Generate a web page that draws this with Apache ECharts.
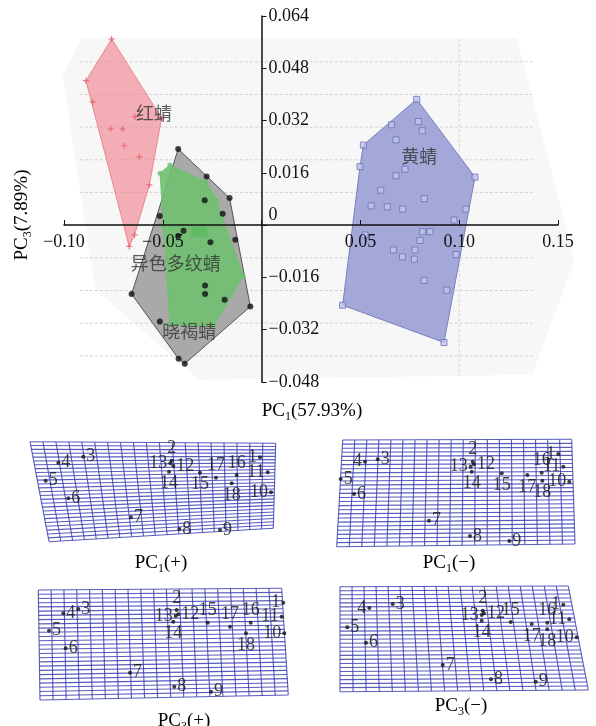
<!DOCTYPE html>
<html>
<head>
<meta charset="utf-8">
<script src="https://cdn.jsdelivr.net/npm/echarts@6/dist/echarts.min.js"></script>
<style>
html, body { margin: 0; padding: 0; background: #fff; }
#chart { width: 596px; height: 726px; }
</style>
</head>
<body>
<div id="chart"></div>
<script>
// PCA scores (PC1, PC3)
var red_points = [
    [-0.0759, 0.0570], [-0.0889, 0.0442], [-0.0855, 0.0377], [-0.0641, 0.0332],
    [-0.0764, 0.0295], [-0.0703, 0.0294], [-0.0695, 0.0243], [-0.0619, 0.0209],
    [-0.0568, 0.0123], [-0.0506, 0.0328], [-0.0643, -0.0030], [-0.0670, -0.0065]
];
var gray_points = [
    [-0.0422, 0.0233], [-0.0278, 0.0149], [-0.0162, 0.0083], [-0.0288, 0.0076],
    [-0.0197, 0.0035], [-0.0515, 0.0028], [-0.0395, -0.0017], [-0.0422, -0.0033],
    [-0.0259, -0.0052], [-0.0133, -0.0045], [-0.0286, -0.0185], [-0.0286, -0.0211],
    [-0.0187, -0.0228], [-0.0057, -0.0249], [-0.0658, -0.0211], [-0.0515, -0.0295],
    [-0.0420, -0.0409], [-0.0389, -0.0424]
];
var green_points = [
    [-0.0514, 0.0159], [-0.0464, 0.0184], [-0.0281, 0.0133], [-0.0227, 0.0077],
    [-0.0093, -0.0157], [-0.0244, -0.0310], [-0.0464, -0.0305], [-0.0497, -0.0004]
];
var green_block = [[-0.0315, -0.0020]];
var blue_points = [
    [0.0785, 0.0385], [0.0658, 0.0307], [0.0793, 0.0317], [0.0813, 0.0289],
    [0.0680, 0.0261], [0.0515, 0.0245], [0.0498, 0.0179], [0.0726, 0.0171],
    [0.0680, 0.0151], [0.1080, 0.0147], [0.0603, 0.0107], [0.0823, 0.0081],
    [0.0554, 0.0059], [0.0636, 0.0056], [0.0714, 0.0049], [0.1034, 0.0049],
    [0.0974, 0.0016], [0.0815, -0.0020], [0.0852, -0.0020], [0.0802, -0.0047],
    [0.0667, -0.0076], [0.0776, -0.0076], [0.0713, -0.0097], [0.0773, -0.0104],
    [0.0984, -0.0090], [0.0823, -0.0169], [0.0937, -0.0199], [0.0410, -0.0245],
    [0.0923, -0.0359], [0.0523, -0.0030]
];
var group_labels = [
    { name: '红蜻', value: [-0.0545, 0.0343] },
    { name: '黄蜻', value: [0.0798, 0.0210] },
    { name: '异色多纹蜻', value: [-0.0434, -0.0116] },
    { name: '晓褐蜻', value: [-0.0366, -0.0325] }
];
var bg_outline = [
    [-0.0909, 0.0572], [0.1292, 0.0572], [0.1583, -0.0106], [0.1370, -0.0458],
    [-0.0317, -0.0473], [-0.0841, -0.0198], [-0.0938, 0.0179], [-0.1006, 0.0455]
];
var grid_y = [0.05, 0.04, 0.03, 0.02, 0.01, -0.01, -0.02, -0.03, -0.04];
var grid_x = [0.10];

// landmark configurations for the deformation grids (local units)
var p1_marks = [
    [235, 27.3], [146.7, 30.7], [58.3, 26.7], [33.3, 32.7], [20.7, 50.7], [43.3, 68.3],
    [106, 87.3], [154.3, 99], [195, 100], [246, 62.3], [242.7, 42.3], [148.3, 36],
    [145.3, 33.3], [144, 41.7], [175, 42.7], [211.7, 45], [191, 47.7], [206.7, 53.3]
];
var p2_marks = [
    [228.3, 24], [142.7, 31.7], [47.7, 29.3], [35, 31.7], [10.7, 49], [24, 64],
    [99, 90.7], [140, 106], [179.3, 111], [239.3, 51.7], [233.3, 36.7], [144, 34.3],
    [140.7, 36.7], [141.7, 41.7], [171.7, 43.3], [211.7, 42.7], [197.3, 45], [212.3, 50.7]
];
var p3_marks = [
    [258.3, 22.7], [151.7, 30], [53.3, 29], [38.3, 33.3], [24, 50.7], [40.7, 68.3],
    [105, 92.7], [149.3, 106.7], [186, 111.7], [259.3, 53.3], [256.7, 36.7], [153.3, 34.3],
    [150.7, 36], [148.3, 41.7], [182.7, 42.7], [225.7, 42.7], [205, 46.7], [221, 53.3]
];
var p4_marks = [
    [233.3, 24.7], [152.7, 30.7], [62.7, 24], [39.3, 28], [17.3, 47.3], [36, 62.7],
    [112.7, 85], [161, 99.3], [205.7, 101.7], [246.7, 57.3], [239.3, 39.3], [154, 33.3],
    [151.7, 35], [151.7, 40.7], [180.7, 42], [217.3, 42.7], [201.7, 44], [217.3, 49.3]
];
var p1_corners = [[5, 11.7], [250.7, 13.3], [248.3, 98.3], [24, 111.7]];
var p2_corners = [[12.7, 10], [241.7, 9.3], [245, 114], [6.7, 116.7]];
var p3_corners = [[13.3, 10], [256.7, 8.3], [263.3, 115], [15, 120]];
var p4_corners = [[10, 6.7], [238.3, 6], [258.3, 110], [10, 111.7]];

var p1_pos = ['left','top','right','right','right','right','right','right','right','left','left','right','left','bottom','bottom','top','top','bottom'];
var p2_pos = ['left','top','right','left','right','right','right','right','right','left','left','right','left','bottom','bottom','top','bottom','bottom'];
var p3_pos = ['left','top','right','right','right','right','right','right','right','left','left','right','left','bottom','top','top','top','bottom'];
var p4_pos = ['left','top','right','left','right','right','right','right','right','left','left','right','left','bottom','top','top','bottom','bottom'];

var SERIF = 'Liberation Serif';
var CJK = 'Noto Sans CJK SC';

function convexHull(pts) {
    var p = pts.slice().sort(function (a, b) { return a[0] - b[0] || a[1] - b[1]; });
    function cross(o, a, b) { return (a[0] - o[0]) * (b[1] - o[1]) - (a[1] - o[1]) * (b[0] - o[0]); }
    var lower = [], upper = [];
    p.forEach(function (q) {
        while (lower.length >= 2 && cross(lower[lower.length - 2], lower[lower.length - 1], q) <= 0) lower.pop();
        lower.push(q);
    });
    p.slice().reverse().forEach(function (q) {
        while (upper.length >= 2 && cross(upper[upper.length - 2], upper[upper.length - 1], q) <= 0) upper.pop();
        upper.push(q);
    });
    return lower.slice(0, -1).concat(upper.slice(0, -1));
}

function polygonSeries(points, fill, stroke, z, hull) {
    var poly = hull ? convexHull(points) : points;
    return {
        type: 'custom', xAxisIndex: 0, yAxisIndex: 0, z: z, silent: true,
        data: [[0, 0]],
        renderItem: function (params, api) {
            return {
                type: 'polygon',
                shape: { points: poly.map(function (q) { return api.coord(q); }) },
                style: { fill: fill, stroke: stroke, lineWidth: 1 }
            };
        }
    };
}

function meshSeries(idx, c, rows, cols) {
    return {
        type: 'custom', xAxisIndex: idx, yAxisIndex: idx, z: 1, silent: true,
        data: [[0, 0]],
        renderItem: function (params, api) {
            function at(u, v) {
                var x = (1 - u) * (1 - v) * c[0][0] + u * (1 - v) * c[1][0] + u * v * c[2][0] + (1 - u) * v * c[3][0];
                var y = (1 - u) * (1 - v) * c[0][1] + u * (1 - v) * c[1][1] + u * v * c[2][1] + (1 - u) * v * c[3][1];
                return api.coord([x, y]);
            }
            var kids = [];
            var st = { stroke: 'rgba(58,64,178,0.85)', lineWidth: 1.1 };
            for (var i = 0; i <= rows; i++) {
                var a = at(0, i / rows), b = at(1, i / rows);
                kids.push({ type: 'line', shape: { x1: a[0], y1: a[1], x2: b[0], y2: b[1] }, style: st });
            }
            for (var j = 0; j <= cols; j++) {
                var d = at(j / cols, 0), e = at(j / cols, 1);
                kids.push({ type: 'line', shape: { x1: d[0], y1: d[1], x2: e[0], y2: e[1] }, style: st });
            }
            return { type: 'group', children: kids };
        }
    };
}

function markSeries(idx, marks, pos) {
    return {
        type: 'scatter', xAxisIndex: idx, yAxisIndex: idx, z: 5,
        symbolSize: 4,
        itemStyle: { color: '#111' },
        data: marks.map(function (m, i) {
            return { value: m, name: String(i + 1), label: { position: pos[i] } };
        }),
        label: {
            show: true, formatter: '{b}', distance: 1,
            fontFamily: SERIF, fontSize: 18, color: '#111'
        }
    };
}

var panelBoxes = [
    { left: 25, top: 430, width: 270, height: 130 },
    { left: 330, top: 430, width: 266, height: 130 },
    { left: 25, top: 580, width: 270, height: 146 },
    { left: 330, top: 580, width: 266, height: 146 }
];

var grids = [{ left: 64, top: 16, width: 494, height: 366 }].concat(panelBoxes);

// the axes cross at the origin: move them there with offsets
var xAxes = [{
    type: 'value', gridIndex: 0, min: -0.10, max: 0.15, interval: 0.05,
    position: 'bottom', offset: -157, z: 10,
    axisLine: { onZero: false, lineStyle: { color: '#111', width: 1.5 } },
    axisTick: { inside: true, length: 5, lineStyle: { color: '#111' } },
    axisLabel: {
        margin: 8, fontFamily: SERIF, fontSize: 18, color: '#111',
        formatter: function (v) {
            if (Math.abs(v) < 1e-9) return '';
            return (v < 0 ? '\u2212' : '') + Math.abs(v).toFixed(2);
        }
    },
    splitLine: { show: false }
}];
var yAxes = [{
    type: 'value', gridIndex: 0, min: -0.048, max: 0.064, interval: 0.016,
    position: 'left', offset: -197.6, z: 10,
    axisLine: { onZero: false, lineStyle: { color: '#111', width: 1.5 } },
    axisTick: { inside: true, length: 5, lineStyle: { color: '#111' } },
    axisLabel: {
        inside: true, margin: 7, fontFamily: SERIF, fontSize: 18, color: '#111',
        formatter: function (v) {
            if (Math.abs(v) < 1e-9) return '{z|0}';
            return (v < 0 ? '\u2212' : '') + Math.abs(v).toFixed(3);
        },
        rich: { z: { fontFamily: SERIF, fontSize: 18, color: '#111', padding: [0, 0, 20, 0] } }
    },
    splitLine: { show: false }
}];
panelBoxes.forEach(function (b, i) {
    xAxes.push({ type: 'value', gridIndex: i + 1, min: 0, max: b.width, show: false });
    yAxes.push({ type: 'value', gridIndex: i + 1, min: 0, max: b.height, inverse: true, show: false });
});

var subRich = {
    n: { fontFamily: SERIF, fontSize: 19, color: '#111', lineHeight: 24 },
    s: { fontFamily: SERIF, fontSize: 12, color: '#111', verticalAlign: 'bottom', lineHeight: 24 }
};
function caption(x, y, sub, rest, rot) {
    return {
        type: 'text', x: x, y: y, rotation: rot || 0, silent: true,
        style: {
            text: '{n|PC}{s|' + sub + '}{n|' + rest + '}',
            rich: subRich, align: 'center', verticalAlign: 'middle'
        }
    };
}

var chart = echarts.init(document.getElementById('chart'));
chart.setOption({
    animation: false,
    backgroundColor: '#fff',
    grid: grids,
    xAxis: xAxes,
    yAxis: yAxes,
    graphic: [
        caption(312, 411, '1', '(57.93%)'),
        caption(22, 215, '3', '(7.89%)', Math.PI / 2),
        caption(161, 563, '1', '(+)'),
        caption(449, 563, '1', '(\u2212)'),
        caption(184, 721, '3', '(+)'),
        caption(461, 706, '3', '(\u2212)')
    ],
    series: [
        polygonSeries(bg_outline, '#f7f7f7', null, 0, false),
        {
            type: 'custom', xAxisIndex: 0, yAxisIndex: 0, z: 1, silent: true,
            data: [[0, 0]],
            renderItem: function (params, api) {
                var kids = [];
                var st = { stroke: '#d2d2d2', lineWidth: 1, lineDash: [3, 2] };
                grid_y.forEach(function (g) {
                    var a = api.coord([-0.092, g]), b = api.coord([0.137, g]);
                    kids.push({ type: 'line', shape: { x1: a[0], y1: a[1], x2: b[0], y2: b[1] }, style: st });
                });
                grid_x.forEach(function (g) {
                    var a = api.coord([g, 0.057]), b = api.coord([g, -0.046]);
                    kids.push({ type: 'line', shape: { x1: a[0], y1: a[1], x2: b[0], y2: b[1] }, style: st });
                });
                return { type: 'group', children: kids };
            }
        },
        polygonSeries(gray_points, '#a9a9a9', '#555', 2, true),
        polygonSeries(red_points, 'rgba(241,128,138,0.62)', '#ec8790', 2, true),
        polygonSeries(green_points, 'rgba(112,192,112,0.9)', 'rgba(112,192,112,0.9)', 3, true),
        polygonSeries(blue_points, '#a4a8d8', '#7a7fc2', 2, true),
        {
            type: 'scatter', xAxisIndex: 0, yAxisIndex: 0, z: 4,
            symbol: 'path://M4,0H6V4H10V6H6V10H4V6H0V4H4Z', symbolSize: 6,
            itemStyle: { color: '#e35b68' }, data: red_points
        },
        {
            type: 'scatter', xAxisIndex: 0, yAxisIndex: 0, z: 4,
            symbolSize: 5, itemStyle: { color: '#6fbf6f' }, data: green_points
        },
        {
            type: 'scatter', xAxisIndex: 0, yAxisIndex: 0, z: 4,
            symbol: 'rect', symbolSize: [16, 10], itemStyle: { color: '#5cb860' }, data: green_block
        },
        {
            type: 'scatter', xAxisIndex: 0, yAxisIndex: 0, z: 5,
            symbolSize: 6, itemStyle: { color: '#111' }, data: gray_points
        },
        {
            type: 'scatter', xAxisIndex: 0, yAxisIndex: 0, z: 4,
            symbol: 'rect', symbolSize: 6,
            itemStyle: { color: '#c3c6e8', borderColor: '#6a70bc', borderWidth: 1 },
            data: blue_points
        },
        {
            type: 'scatter', xAxisIndex: 0, yAxisIndex: 0, z: 6, symbolSize: 0,
            data: group_labels,
            label: {
                show: true, position: 'inside', formatter: '{b}',
                fontFamily: CJK, fontSize: 18, color: '#333'
            }
        },
        meshSeries(1, p1_corners, 26, 19),
        meshSeries(2, p2_corners, 26, 19),
        meshSeries(3, p3_corners, 26, 19),
        meshSeries(4, p4_corners, 26, 19),
        markSeries(1, p1_marks, p1_pos),
        markSeries(2, p2_marks, p2_pos),
        markSeries(3, p3_marks, p3_pos),
        markSeries(4, p4_marks, p4_pos)
    ]
});
</script>
</body>
</html>
